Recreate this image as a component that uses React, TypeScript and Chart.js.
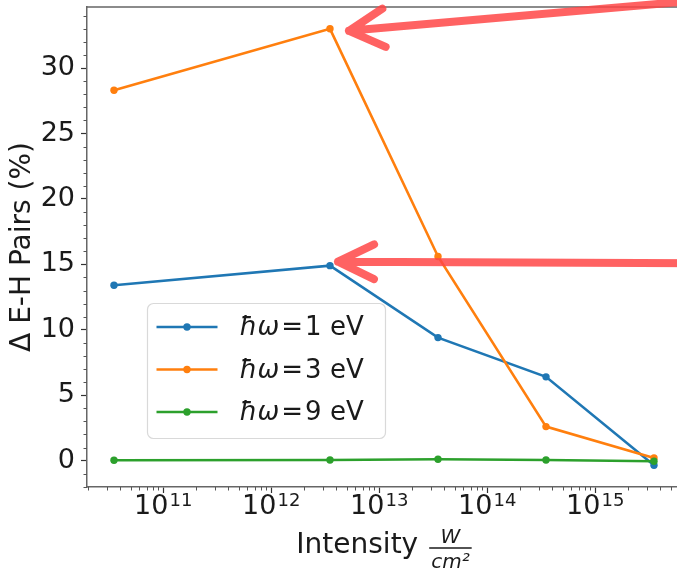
import React, { useEffect, useRef } from 'react';
import { Chart, registerables } from 'chart.js';

Chart.register(...registerables);

// ---- data ----
const intensities = [3.5e10, 3.5e12, 3.5e13, 3.5e14, 3.5e15];
const pairs1eV = [13.4, 14.9, 9.4, 6.4, -0.35];
const pairs3eV = [28.3, 33.0, 15.6, 2.6, 0.2];
const pairs9eV = [0.03, 0.05, 0.1, 0.05, -0.05];
const photonEnergies = ['1', '3', '9'];
const seriesColors = ['#1f77b4', '#ff7f0e', '#2ca02c'];
const yTickValues = [0, 5, 10, 15, 20, 25, 30];
const xTickExponents = [11, 12, 13, 14, 15];
const xTitle = 'Intensity';
const xUnitNumerator = 'W';
const xUnitDenominator = 'cm²';
const yTitle = 'Δ E-H Pairs (%)';

const FONT = '"DejaVu Sans", sans-serif';
const INK = '#1a1a1a';
const CANVAS_W = 700;
const CANVAS_H = 572;

function margins(vals: number[], frac = 0.05) {
  const lo = Math.min(...vals);
  const hi = Math.max(...vals);
  const pad = (hi - lo) * frac;
  return [lo - pad, hi + pad];
}

const decorPlugin = {
  id: 'decor',
  afterDraw(chart: any) {
    const ctx: CanvasRenderingContext2D = chart.ctx;
    const area = chart.chartArea;
    const xs = chart.scales.x;
    const ys = chart.scales.y;
    ctx.save();

    // top / right spines
    ctx.strokeStyle = '#666';
    ctx.lineWidth = 1.5;
    ctx.beginPath();
    ctx.moveTo(area.left, area.top);
    ctx.lineTo(area.right, area.top);
    ctx.lineTo(area.right, area.bottom);
    ctx.stroke();

    // minor ticks
    ctx.strokeStyle = '#555';
    ctx.lineWidth = 1;
    ctx.beginPath();
    for (let v = Math.ceil(ys.min); v <= ys.max; v++) {
      if (v % 5 === 0) continue;
      const py = Math.round(ys.getPixelForValue(v)) + 0.5;
      ctx.moveTo(area.left - 3.5, py);
      ctx.lineTo(area.left, py);
    }
    for (let d = 10; d <= 16; d++) {
      for (let m = 2; m <= 9; m++) {
        const v = m * Math.pow(10, d);
        if (v < xs.min || v > xs.max) continue;
        const px = Math.round(xs.getPixelForValue(v)) + 0.5;
        ctx.moveTo(px, area.bottom);
        ctx.lineTo(px, area.bottom + 3.5);
      }
    }
    ctx.stroke();

    // x tick labels 10^n
    ctx.fillStyle = INK;
    ctx.textAlign = 'left';
    ctx.textBaseline = 'alphabetic';
    xTickExponents.forEach((e) => {
      const px = xs.getPixelForValue(Math.pow(10, e));
      ctx.font = `27px ${FONT}`;
      const bw = ctx.measureText('10').width;
      ctx.font = `18px ${FONT}`;
      const sup = String(e);
      const sw = ctx.measureText(sup).width;
      const x0 = px - (bw + 1 + sw) / 2;
      ctx.font = `27px ${FONT}`;
      ctx.fillText('10', x0, area.bottom + 27);
      ctx.font = `18px ${FONT}`;
      ctx.fillText(sup, x0 + bw + 1, area.bottom + 19);
    });

    // x title with fraction
    ctx.font = `28px ${FONT}`;
    const wTitle = ctx.measureText(xTitle).width;
    ctx.font = `italic 20px ${FONT}`;
    const wNum = ctx.measureText(xUnitNumerator).width;
    const wDen = ctx.measureText(xUnitDenominator).width;
    const fracW = Math.max(wNum, wDen) + 4;
    const gap = 11;
    const total = wTitle + gap + fracW;
    const cx = (area.left + area.right) / 2;
    const tx0 = cx - total / 2;
    ctx.font = `28px ${FONT}`;
    ctx.fillText(xTitle, tx0, area.bottom + 66);
    const fx0 = tx0 + wTitle + gap;
    const fcx = fx0 + fracW / 2;
    ctx.strokeStyle = INK;
    ctx.lineWidth = 1.4;
    ctx.beginPath();
    ctx.moveTo(fx0, area.bottom + 61);
    ctx.lineTo(fx0 + fracW, area.bottom + 61);
    ctx.stroke();
    ctx.font = `italic 20px ${FONT}`;
    ctx.textAlign = 'center';
    ctx.fillText(xUnitNumerator, fcx, area.bottom + 56);
    ctx.fillText(xUnitDenominator, fcx, area.bottom + 81);

    // legend
    const bx = area.left + 60.5;
    const by = 303.5;
    ctx.beginPath();
    ctx.roundRect(bx, by, 238, 135, 6);
    ctx.fillStyle = 'rgba(255,255,255,0.85)';
    ctx.fill();
    ctx.strokeStyle = '#d9d9d9';
    ctx.lineWidth = 1.2;
    ctx.stroke();
    const rowOffsets = [23.5, 66, 108.5];
    chart.data.datasets.forEach((ds: any, i: number) => {
      const ry = by + rowOffsets[i];
      ctx.strokeStyle = ds.borderColor;
      ctx.lineWidth = 2.6;
      ctx.beginPath();
      ctx.moveTo(bx + 9, ry);
      ctx.lineTo(bx + 70, ry);
      ctx.stroke();
      ctx.fillStyle = ds.borderColor;
      ctx.beginPath();
      ctx.arc(bx + 39.5, ry, 3.7, 0, Math.PI * 2);
      ctx.fill();
      ctx.fillStyle = INK;
      ctx.textAlign = 'left';
      let x = bx + 92;
      const base = ry + 8;
      ctx.font = `italic 26px ${FONT}`;
      ctx.fillText('ħω', x, base);
      x += ctx.measureText('ħω').width + 2;
      ctx.font = `26px ${FONT}`;
      ctx.fillText('=', x, base);
      x += ctx.measureText('=').width + 2;
      ctx.fillText(`${photonEnergies[i]} eV`, x, base);
    });

    // red annotation arrows pointing to peaks
    const drawArrow = (tx: number, ty: number, sx: number, sy: number, head: number, ha: number) => {
      const ang = Math.atan2(sy - ty, sx - tx);
      ctx.beginPath();
      ctx.moveTo(sx, sy);
      ctx.lineTo(tx, ty);
      ctx.moveTo(tx + head * Math.cos(ang - ha), ty + head * Math.sin(ang - ha));
      ctx.lineTo(tx, ty);
      ctx.lineTo(tx + head * Math.cos(ang + ha), ty + head * Math.sin(ang + ha));
      ctx.stroke();
    };
    ctx.strokeStyle = 'rgba(255,70,70,0.85)';
    ctx.lineWidth = 8;
    ctx.lineCap = 'round';
    ctx.lineJoin = 'round';
    const p3x = xs.getPixelForValue(intensities[1]);
    const p3y = ys.getPixelForValue(pairs3eV[1]);
    drawArrow(p3x + 19, p3y + 2, CANVAS_W, p3y - 28.5, 40, 0.5);
    const p1x = xs.getPixelForValue(intensities[1]);
    const p1y = ys.getPixelForValue(pairs1eV[1]);
    drawArrow(p1x + 8, p1y - 4, CANVAS_W, p1y - 2.5, 40, 0.45);

    ctx.restore();
  },
};

export default function App() {
  const ref = useRef<HTMLCanvasElement>(null);

  useEffect(() => {
    if (!ref.current) return;
    const [yMin, yMax] = margins([...pairs1eV, ...pairs3eV, ...pairs9eV]);
    const logX = intensities.map((v) => Math.log10(v));
    const [lxMin, lxMax] = margins(logX);
    const series = [pairs1eV, pairs3eV, pairs9eV];
    const chart = new Chart(ref.current, {
      type: 'line',
      data: {
        datasets: series.map((vals, i) => ({
          label: `ħω=${photonEnergies[i]} eV`,
          data: intensities.map((x, j) => ({ x, y: vals[j] })),
          borderColor: seriesColors[i],
          backgroundColor: seriesColors[i],
          borderWidth: 2.6,
          pointRadius: 3.7,
          pointBorderWidth: 0,
          pointBackgroundColor: seriesColors[i],
          tension: 0,
          order: 2 - i,
        })),
      },
      options: {
        animation: false,
        responsive: false,
        devicePixelRatio: 1,
        layout: { padding: { top: 7, right: CANVAS_W - 681, left: 0, bottom: 0 } },
        plugins: { legend: { display: false }, tooltip: { enabled: false } },
        scales: {
          x: {
            type: 'logarithmic',
            min: Math.pow(10, lxMin),
            max: Math.pow(10, lxMax),
            afterBuildTicks: (s: any) => {
              s.ticks = xTickExponents.map((e) => ({ value: Math.pow(10, e) }));
            },
            afterFit: (s: any) => {
              s.height = 85;
              s.paddingLeft = 0;
              s.paddingRight = 0;
            },
            grid: { drawOnChartArea: false, drawTicks: true, tickLength: 6, tickColor: '#333', tickWidth: 1.2 },
            border: { display: true, color: '#666', width: 1.5 },
            ticks: { autoSkip: false, maxRotation: 0, callback: () => '' },
          },
          y: {
            type: 'linear',
            min: yMin,
            max: yMax,
            afterBuildTicks: (s: any) => {
              s.ticks = yTickValues.map((v) => ({ value: v }));
            },
            afterFit: (s: any) => {
              s.width = 87;
              s.paddingTop = 0;
              s.paddingBottom = 0;
            },
            grid: { drawOnChartArea: false, drawTicks: true, tickLength: 6, tickColor: '#333', tickWidth: 1.2 },
            border: { display: true, color: '#666', width: 1.5 },
            ticks: {
              autoSkip: false,
              font: { family: FONT, size: 27 },
              color: INK,
              padding: 6,
              callback: (v: any) => String(v),
            },
            title: {
              display: true,
              text: yTitle,
              font: { family: FONT, size: 28 },
              color: INK,
              padding: { top: 6, bottom: 0 },
            },
          },
        },
      },
      plugins: [decorPlugin],
    } as any);
    return () => chart.destroy();
  }, []);

  return (
    <div style={{ position: 'fixed', left: 0, top: 0, width: 677, height: CANVAS_H, overflow: 'hidden', background: '#fff' }}>
      <canvas ref={ref} width={CANVAS_W} height={CANVAS_H} style={{ display: 'block' }} />
    </div>
  );
}
